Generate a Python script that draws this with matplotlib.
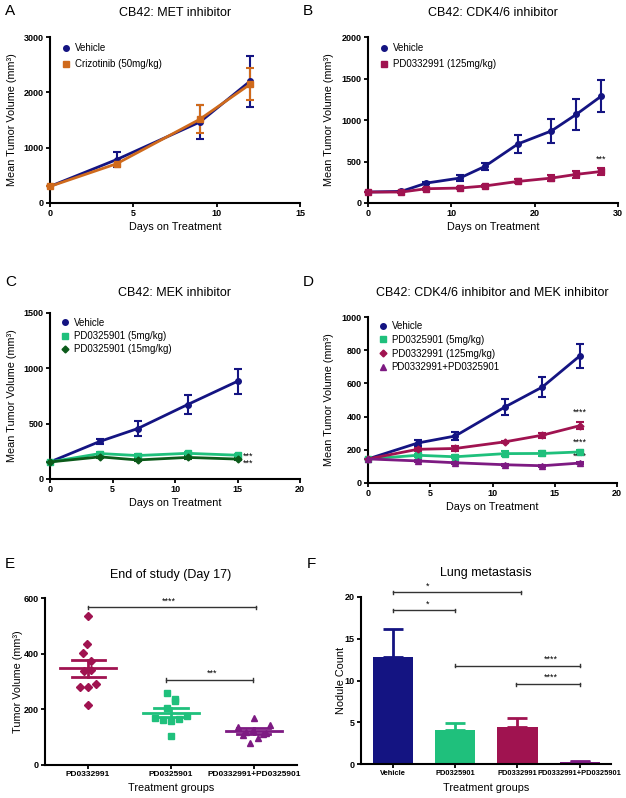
import matplotlib
matplotlib.use('Agg')
import matplotlib.pyplot as plt
from matplotlib.lines import Line2D

plt.rcParams['font.family'] = ['Liberation Sans', 'DejaVu Sans']

NAVY = '#141482'
ORANGE = '#cf6a1c'
MAROON = '#a01350'
GREEN = '#1fc07c'
DKGREEN = '#0b5a1a'
PURPLE = '#7d1a82'

# ---------------- data ----------------
A_days = [0, 4, 9, 12]
A_vehicle = [300, 785, 1465, 2200]
A_vehicle_err = [0, 140, 310, 460]
A_criz = [300, 710, 1515, 2145]
A_criz_err = [0, 50, 255, 290]

B_days = [0, 4, 7, 11, 14, 18, 22, 25, 28]
B_vehicle = [132, 140, 240, 300, 440, 712, 868, 1068, 1288]
B_vehicle_err = [0, 10, 15, 35, 45, 110, 150, 188, 188]
B_pd0332991 = [132, 132, 172, 180, 205, 260, 300, 345, 380]
B_pd0332991_err = [0, 10, 10, 10, 12, 25, 32, 38, 38]

C_days = [0, 4, 7, 11, 15]
C_vehicle = [154, 340, 455, 672, 883]
C_vehicle_err = [0, 22, 65, 88, 115]
C_mek5 = [154, 230, 212, 232, 215]
C_mek5_err = [0, 15, 12, 15, 12]
C_mek15 = [154, 200, 172, 195, 180]
C_mek15_err = [0, 10, 8, 10, 8]

D_days = [0, 4, 7, 11, 14, 17]
D_vehicle = [145, 241, 283, 458, 578, 765]
D_vehicle_err = [0, 18, 25, 48, 58, 72]
D_mek = [145, 167, 158, 177, 178, 187]
D_mek_err = [0, 8, 10, 14, 14, 12]
D_cdk = [145, 203, 208, 248, 288, 345]
D_cdk_err = [0, 10, 15, 8, 15, 22]
D_combo = [145, 133, 122, 110, 104, 120]
D_combo_err = [0, 8, 6, 5, 5, 6]

E_groups = ['PD0332991', 'PD0325901', 'PD0332991+PD0325901']
E_pd0332991 = [534, 436, 401, 375, 342, 336, 291, 282, 279, 214]
E_pd0325901 = [257, 237, 229, 206, 176, 170, 166, 160, 157, 105]
E_combo = [170, 143, 136, 124, 118, 114, 112, 109, 96, 80]
E_jitter0 = [0.0, -0.01, -0.06, 0.04, 0.04, -0.05, 0.09, -0.1, 0.0, 0.0]
E_jitter1 = [-0.05, 0.05, 0.05, -0.05, 0.19, -0.19, 0.1, -0.1, 0.0, 0.0]
E_jitter2 = [0.0, 0.19, -0.19, -0.01, -0.09, 0.15, 0.11, -0.13, 0.05, -0.05]
E_mean = [347, 188, 122]
E_sem = [30, 16, 10]

F_groups = ['Vehicle', 'PD0325901', 'PD0332991', 'PD0332991+PD0325901']
F_values = [12.8, 4.08, 4.48, 0.2]
F_err = [3.36, 0.8, 1.0, 0.2]
F_colors = [NAVY, GREEN, MAROON, PURPLE]

W, H = 626, 798
fig = plt.figure(figsize=(W / 100, H / 100), dpi=100)


def add_axes(l, r, t, b):
    return fig.add_axes([l / W, 1 - b / H, (r - l) / W, (b - t) / H])


def style(ax, xlim, ylim, xticks, yticks, lab=6.5):
    ax.set_xlim(*xlim)
    ax.set_ylim(*ylim)
    ax.set_xticks(xticks)
    ax.set_yticks(yticks)
    for s in ['top', 'right']:
        ax.spines[s].set_visible(False)
    for s in ['left', 'bottom']:
        ax.spines[s].set_linewidth(1.5)
    ax.tick_params(width=1.3, length=3, labelsize=lab, pad=1.5)
    for t in ax.get_xticklabels() + ax.get_yticklabels():
        t.set_fontweight('bold')


def labels(ax, title, xlabel, ylabel, ylab_dx, title_dy=24, xlab_dy=24):
    hpx = ax.get_position().height * H
    wpx = ax.get_position().width * W
    ax.text(0.5, 1 + title_dy / hpx, title, transform=ax.transAxes,
            ha='center', va='center', fontsize=9)
    ax.text(0.5, -xlab_dy / hpx, xlabel, transform=ax.transAxes,
            ha='center', va='center', fontsize=7.8)
    ax.text(-ylab_dx / wpx, 0.5, ylabel, transform=ax.transAxes,
            ha='center', va='center', fontsize=7.8, rotation=90)


def line(ax, x, y, e, color, marker, ms=4, label=None):
    ax.errorbar(x, y, yerr=e, color=color, marker=marker, ms=ms, lw=2,
                capsize=3, capthick=1.5, elinewidth=1.5, clip_on=False,
                label=label, zorder=3)


def legend(ax, handles, x=0.046, y=0.962, spacing=0.55):
    ax.legend(handles=handles, loc='upper left', bbox_to_anchor=(x, y),
              frameon=False, fontsize=7, handlelength=0.95, handletextpad=0.45,
              borderpad=0, borderaxespad=0, labelspacing=spacing)


def h(color, marker, label, ms=4):
    return Line2D([], [], color=color, marker=marker, ms=ms, lw=0, label=label)


YL = 'Mean Tumor Volume (mm³)'
XL = 'Days on Treatment'
STAR = 6.5

# ---------------- A ----------------
axA = add_axes(50, 300, 37, 203)
line(axA, A_days, A_vehicle, A_vehicle_err, NAVY, 'o')
line(axA, A_days, A_criz, A_criz_err, ORANGE, 's')
style(axA, (0, 15), (0, 3000), [0, 5, 10, 15], [0, 1000, 2000, 3000])
labels(axA, 'CB42: MET inhibitor', XL, YL, 38)
legend(axA, [h(NAVY, 'o', 'Vehicle'), h(ORANGE, 's', 'Crizotinib (50mg/kg)')], spacing=0.6)

# ---------------- B ----------------
axB = add_axes(368, 618, 37, 203)
line(axB, B_days, B_vehicle, B_vehicle_err, NAVY, 'o')
line(axB, B_days, B_pd0332991, B_pd0332991_err, MAROON, 's')
style(axB, (0, 30), (0, 2000), [0, 10, 20, 30], [0, 500, 1000, 1500, 2000])
labels(axB, 'CB42: CDK4/6 inhibitor', XL, YL, 39)
legend(axB, [h(NAVY, 'o', 'Vehicle'), h(MAROON, 's', 'PD0332991 (125mg/kg)')], spacing=0.6)
axB.text(B_days[-1], B_pd0332991[-1] + B_pd0332991_err[-1] + 60, '***',
         ha='center', va='bottom', fontsize=STAR)

# ---------------- C ----------------
axC = add_axes(50, 300, 313, 479)
line(axC, C_days, C_vehicle, C_vehicle_err, NAVY, 'o')
line(axC, C_days, C_mek5, C_mek5_err, GREEN, 's')
line(axC, C_days, C_mek15, C_mek15_err, DKGREEN, 'D', ms=3.5)
style(axC, (0, 20), (0, 1500), [0, 5, 10, 15, 20], [0, 500, 1000, 1500])
labels(axC, 'CB42: MEK inhibitor', XL, YL, 38, title_dy=20)
legend(axC, [h(NAVY, 'o', 'Vehicle'), h(GREEN, 's', 'PD0325901 (5mg/kg)'),
             h(DKGREEN, 'D', 'PD0325901 (15mg/kg)', ms=3.5)], x=0.042, y=0.972, spacing=0.35)
axC.text(C_days[-1] + 0.4, C_mek5[-1] - 5, '***', ha='left', va='center', fontsize=STAR)
axC.text(C_days[-1] + 0.4, C_mek15[-1] - 40, '***', ha='left', va='center', fontsize=STAR)

# ---------------- D ----------------
axD = add_axes(368, 617, 317, 483)
line(axD, D_days, D_vehicle, D_vehicle_err, NAVY, 'o')
line(axD, D_days, D_mek, D_mek_err, GREEN, 's')
line(axD, D_days, D_cdk, D_cdk_err, MAROON, 'D', ms=3.5)
line(axD, D_days, D_combo, D_combo_err, PURPLE, '^')
style(axD, (0, 20), (0, 1000), [0, 5, 10, 15, 20], [0, 200, 400, 600, 800, 1000])
labels(axD, 'CB42: CDK4/6 inhibitor and MEK inhibitor', XL, YL, 39, title_dy=24)
legend(axD, [h(NAVY, 'o', 'Vehicle'), h(GREEN, 's', 'PD0325901 (5mg/kg)'),
             h(MAROON, 'D', 'PD0332991 (125mg/kg)', ms=3.5),
             h(PURPLE, '^', 'PD0332991+PD0325901')], x=0.04, y=0.975, spacing=0.38)
axD.text(D_days[-1], D_cdk[-1] + D_cdk_err[-1] + 35, '****', ha='center', va='bottom', fontsize=STAR)
axD.text(D_days[-1], D_mek[-1] + 30, '****', ha='center', va='bottom', fontsize=STAR)
axD.text(D_days[-1], D_combo[-1] + 12, '****', ha='center', va='bottom', fontsize=STAR)

# ---------------- E ----------------
axE = add_axes(45, 297, 598, 765)
groups = [(E_pd0332991, E_jitter0, MAROON, 'D', 4.5),
          (E_pd0325901, E_jitter1, GREEN, 's', 5),
          (E_combo, E_jitter2, PURPLE, '^', 5)]
for i, (vals, jit, col, mk, ms) in enumerate(groups):
    axE.plot([i + j for j in jit], vals, ls='none', marker=mk, ms=ms, color=col, zorder=3)
    m, s = E_mean[i], E_sem[i]
    axE.plot([i - 0.34, i + 0.34], [m, m], color=col, lw=2, zorder=4)
    axE.plot([i - 0.2, i + 0.2], [m + s, m + s], color=col, lw=2, zorder=4)
    axE.plot([i - 0.2, i + 0.2], [m - s, m - s], color=col, lw=2, zorder=4)
    axE.plot([i, i], [m - s, m + s], color=col, lw=2, zorder=4)
style(axE, (-0.52, 2.52), (0, 600), [0, 1, 2], [0, 200, 400, 600], lab=6.5)
axE.set_xticklabels(E_groups, fontweight='bold', fontsize=6)
labels(axE, 'End of study (Day 17)', 'Treatment groups', 'Tumor Volume (mm³)', 27, title_dy=23, xlab_dy=23)


def bracket(ax, x0, x1, y, txt, tx, ty_off, tick):
    ax.plot([x0, x1], [y, y], color='#333333', lw=1, clip_on=False)
    ax.plot([x0, x0], [y - tick, y + tick], color='#333333', lw=1, clip_on=False)
    ax.plot([x1, x1], [y - tick, y + tick], color='#333333', lw=1, clip_on=False)
    ax.text(tx, y + ty_off, txt, ha='center', va='bottom', fontsize=STAR)


bracket(axE, 0, 2.02, 566, '****', 0.98, 8, 6)
bracket(axE, 0.94, 1.99, 306, '***', 1.5, 8, 6)

# ---------------- F ----------------
axF = add_axes(361, 611, 597, 764)
xs = list(range(len(F_groups)))
axF.bar(xs, F_values, width=0.65, color=F_colors, zorder=2)
for i in xs:
    axF.errorbar(i, F_values[i], yerr=[[0], [F_err[i]]], color=F_colors[i],
                 capsize=7.5, capthick=2, elinewidth=2, zorder=1)
style(axF, (-0.51, 3.5), (0, 20), xs, [0, 5, 10, 15, 20])
axF.set_xticklabels(F_groups, fontweight='bold', fontsize=5.4)
labels(axF, 'Lung metastasis', 'Treatment groups', 'Nodule Count', 20, title_dy=24, xlab_dy=24)
bracket(axF, 0.01, 2.05, 20.56, '*', 0.56, 0.25, 0.2)
bracket(axF, 0.01, 1.0, 18.4, '*', 0.56, 0.25, 0.2)
bracket(axF, 1.0, 3.0, 11.76, '****', 2.54, 0.25, 0.2)
bracket(axF, 1.98, 3.0, 9.56, '****', 2.54, 0.25, 0.2)

# ---------------- panel letters ----------------
for letter, x, y in [('A', 5, 4), ('B', 303, 4), ('C', 5, 275), ('D', 303, 275),
                     ('E', 5, 557), ('F', 307, 557)]:
    fig.text(x / W, 1 - y / H, letter, fontsize=11, ha='left', va='top')

fig.savefig('out.png', dpi=100)
